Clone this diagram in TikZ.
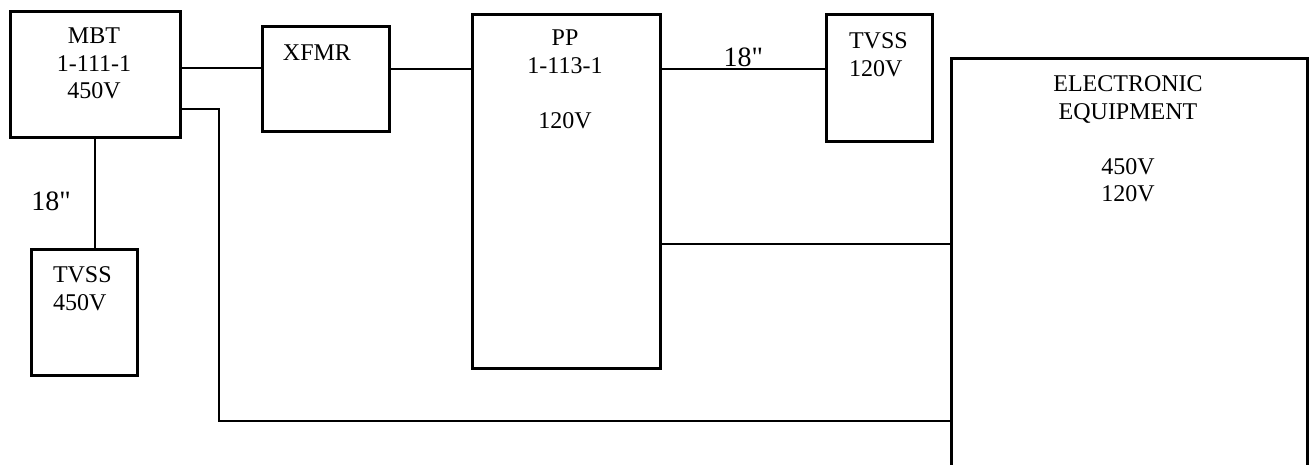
\documentclass[tikz,border=0pt]{standalone}
\usepackage{fontspec}
\setmainfont{Liberation Serif}

\begin{document}
\begin{tikzpicture}[x=0.5pt,y=-0.5pt,line width=1pt,
  unit/.style={draw,line width=1.4pt,anchor=north west,inner sep=0pt},
  txt/.style={inner sep=0pt,align=center,font=\fontsize{12}{13.75}\selectfont},
  len/.style={inner sep=0pt,anchor=base,font=\fontsize{14}{16}\selectfont}]
\useasboundingbox (0,0) rectangle (1311,465);
% boxes
\node[unit,minimum width=85pt,minimum height=63pt] (mbt) at (9,10) {};
\node[unit,minimum width=63.5pt,minimum height=52.5pt] (xfmr) at (261,25) {};
\node[unit,minimum width=94pt,minimum height=177pt] (pp) at (471,13) {};
\node[unit,minimum width=53pt,minimum height=63.5pt] (tvssb) at (825,13) {};
\node[unit,minimum width=53pt,minimum height=63pt] (tvssa) at (30,248) {};
\node[unit,minimum width=178pt,minimum height=216.5pt] (elec) at (950,57) {};
% texts
\node[txt,anchor=north] (mbt-t) at (94,27) {MBT\\1-111-1\\450V};
\node[txt,anchor=north] (xfmr-t) at (317,44) {XFMR};
\node[txt,anchor=north] (pp-t) at (565,29) {PP\\1-113-1\\[13.75pt]120V};
\node[txt,anchor=north west,align=left] (tvssb-t) at (848,32) {TVSS\\120V};
\node[txt,anchor=north west,align=left] (tvssa-t) at (52,266) {TVSS\\450V};
\node[txt,anchor=north] (elec-t) at (1128,75) {ELECTRONIC\\EQUIPMENT\\[13.75pt]450V\\120V};
% wiring
\draw ([yshift=3pt]mbt.east) -- ([yshift=3pt]mbt.east -| xfmr.west);
\draw ([yshift=4.75pt]xfmr.east) -- ([yshift=4.75pt]xfmr.east -| pp.west);
\draw ([yshift=4.25pt]tvssb.west -| pp.east) -- ([yshift=4.25pt]tvssb.west)
  node[len,midway,yshift=1.5pt] (len-b) {18\textquotedbl};
\draw (mbt.south) -- (mbt.south |- tvssa.north);
\node[len] (len-a) at (51,210) {18\textquotedbl};
\draw ([yshift=-26.5pt]pp.east) -- ([yshift=-26.5pt]pp.east -| elec.west);
\coordinate (bend) at (219,421);
\draw ([yshift=-17.5pt]mbt.east) -| (bend) -- (bend -| elec.west);
\end{tikzpicture}
\end{document}
